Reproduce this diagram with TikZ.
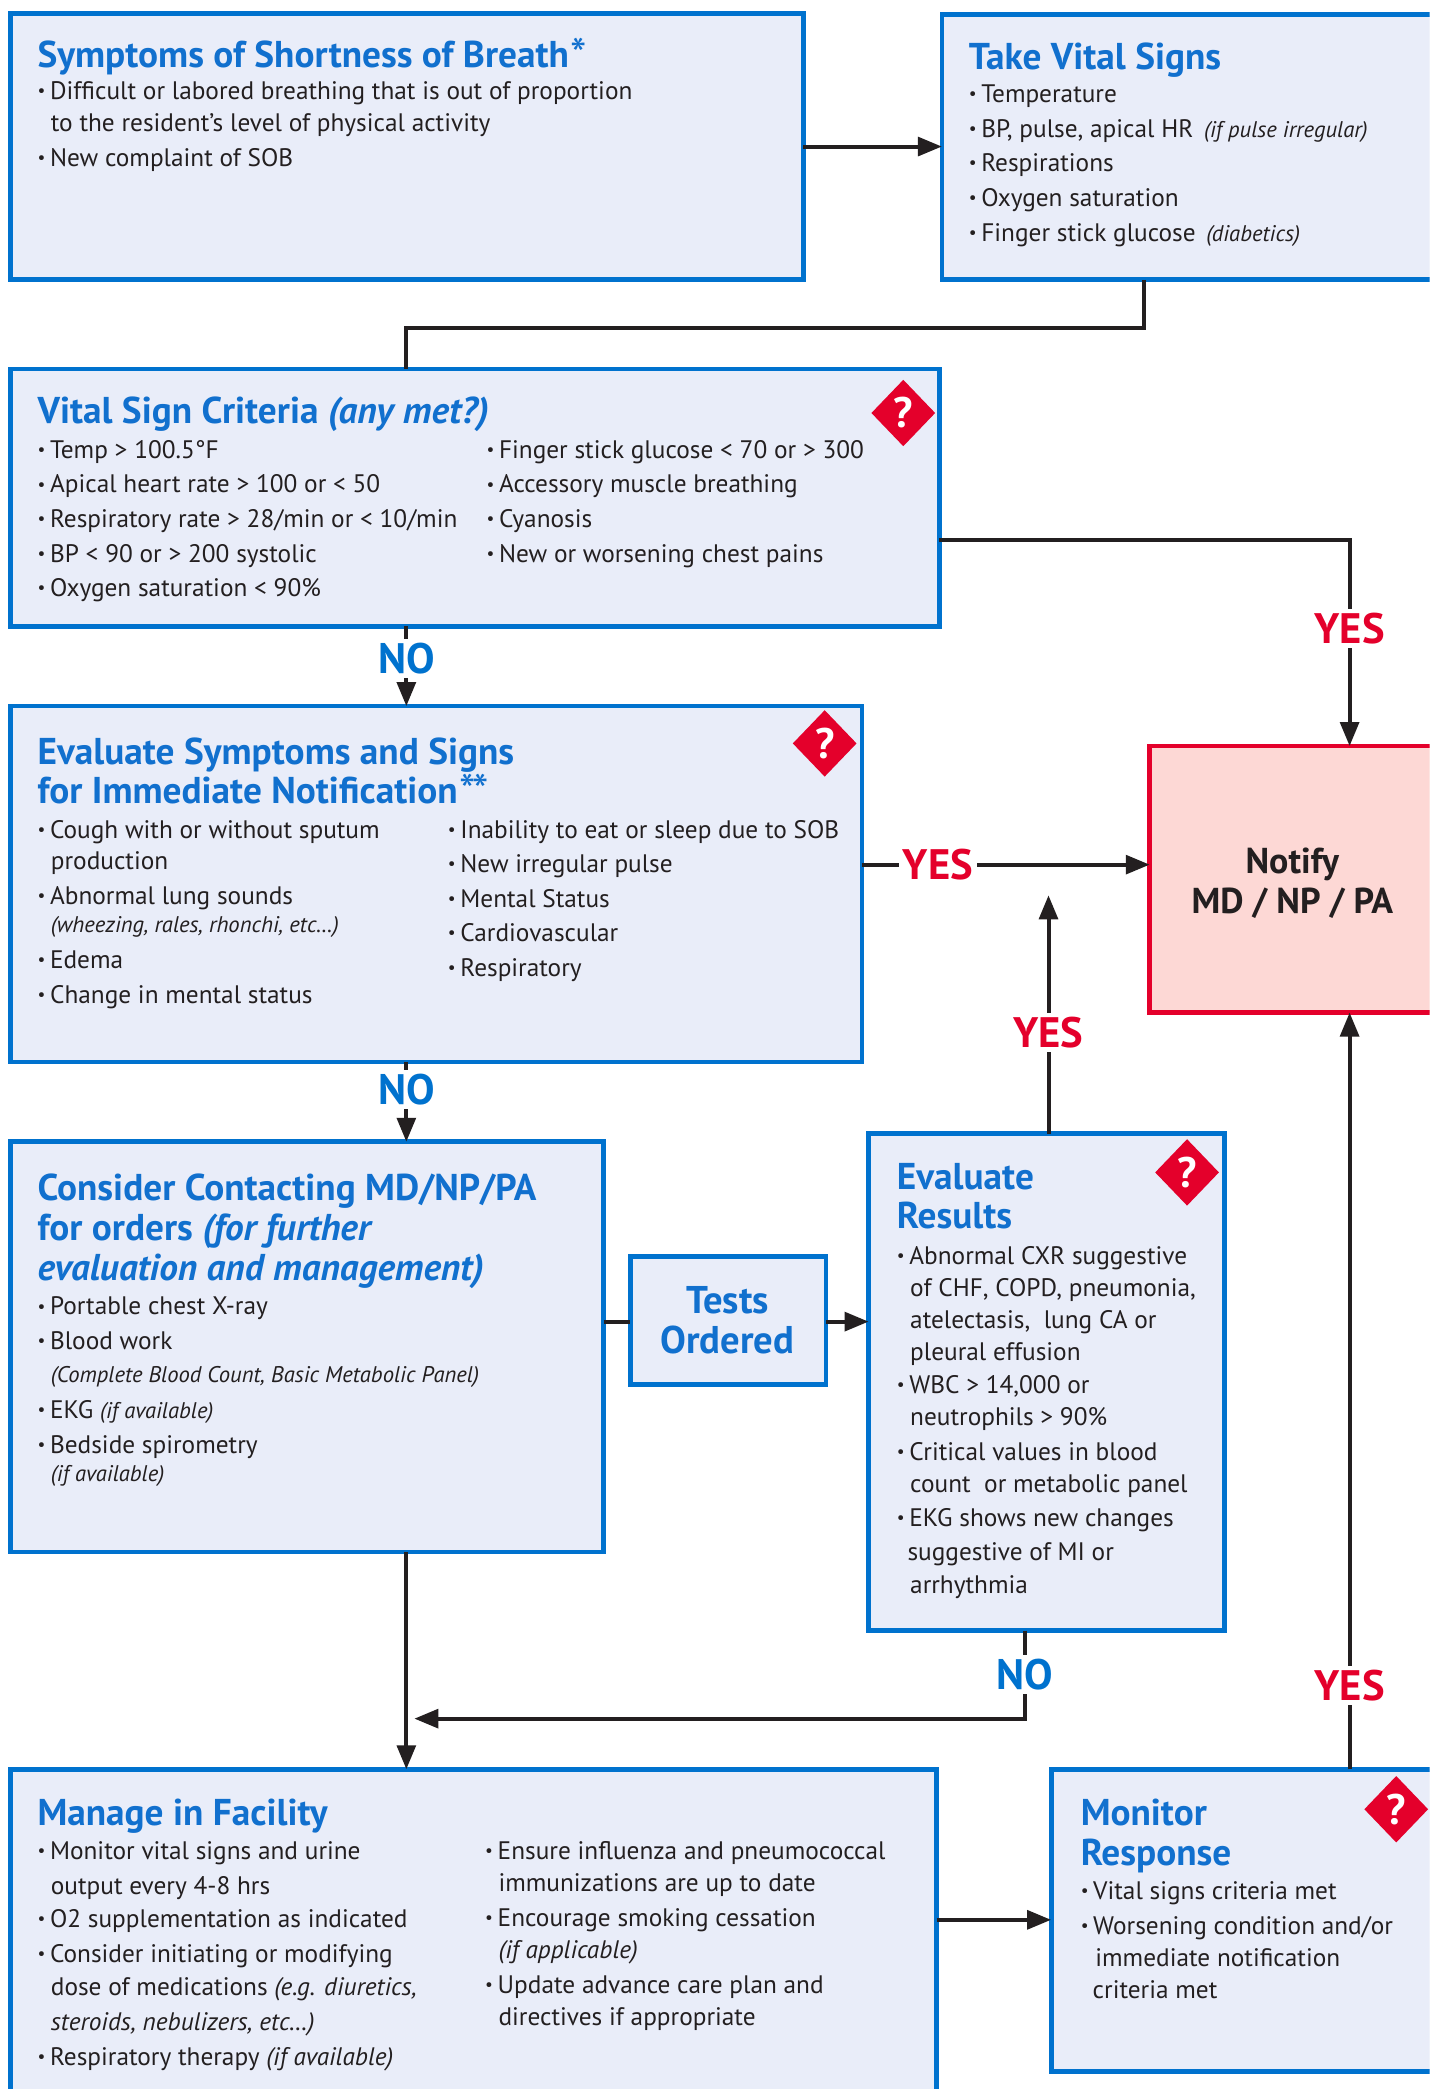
\documentclass[tikz,border=0pt]{standalone}
\usepackage{fontspec}
\setmainfont{PT Sans}
\usetikzlibrary{shapes.geometric,arrows.meta}
\definecolor{boxblue}{HTML}{0072CE}
\definecolor{boxfill}{HTML}{E9EDF9}
\definecolor{titleblue}{HTML}{1170CE}
\definecolor{qred}{HTML}{E4002B}
\definecolor{notifyfill}{HTML}{FDD8D5}
\definecolor{inkblack}{HTML}{231F20}
\newcounter{tlc}
\newcommand\bodyfont{\fontsize{19}{22}\selectfont}
\newcommand\smallit{\fontsize{17}{20}\selectfont\itshape}
\newcommand\titlefont{\fontsize{28}{32}\selectfont\bfseries}
\newcommand\bul{\raisebox{2.2pt}{\fontsize{13}{13}\selectfont\textbullet}\hspace{3.5pt}}
\newcommand\tstar{\raisebox{-3pt}[18pt][0pt]{\fontsize{35}{35}\selectfont\mdseries *}}
\newcommand\tline[3]{\stepcounter{tlc}\node[txt] (t\arabic{tlc}) at (#1,#2) {#3};}
\newcommand\ttitle[3]{\stepcounter{tlc}\node[ttl] (t\arabic{tlc}) at (#1,#2) {#3};}
\tikzset{
  box/.style={draw=boxblue, fill=boxfill, line width=3.5pt, rectangle, inner sep=0pt, outer sep=0pt},
  redbox/.style={draw=qred, fill=notifyfill, line width=3.5pt, rectangle, inner sep=0pt, outer sep=0pt},
  txt/.style={anchor=base west, inner sep=0pt, font=\bodyfont, text=inkblack},
  ttl/.style={anchor=base west, inner sep=0pt, font=\titlefont, text=titleblue},
  conn/.style={draw=inkblack, line width=3pt},
  arr/.style={conn, -{Triangle[length=18pt,width=14pt]}},
  qmark/.style={diamond, fill=qred, minimum width=48pt, minimum height=50pt, inner sep=0pt, text=white, font=\fontsize{32}{32}\selectfont\bfseries},
  yeslab/.style={fill=white, inner sep=3pt, text=qred, font=\fontsize{32}{32}\selectfont\bfseries},
  nolab/.style={fill=white, inner sep=3pt, text=boxblue, font=\fontsize{32}{32}\selectfont\bfseries},
  ctr/.style={anchor=base, inner sep=0pt},
}
\begin{document}
\begin{tikzpicture}[x=1pt,y=-1pt]
\useasboundingbox (0,0) rectangle (1073,1568);
\clip (0,0) rectangle (1073,1568);
\fill[white] (0,0) rectangle (1073,1568);
% boxes
\node[box, minimum width=595pt, minimum height=200pt] (sob) at (305.5,110) {};
\node[box, minimum width=378pt, minimum height=199pt] (vit) at (896,110.5) {};
\node[box, minimum width=697pt, minimum height=193pt] (crit) at (356.5,373.5) {};
\node[box, minimum width=639pt, minimum height=267pt] (eval) at (327.5,663.5) {};
\node[redbox, minimum width=222pt, minimum height=200pt] (notify) at (974,660) {};
\node[box, minimum width=445pt, minimum height=308pt] (cons) at (230.5,1011) {};
\node[box, minimum width=147pt, minimum height=96pt] (tests) at (546.5,991) {};
\node[box, minimum width=267pt, minimum height=373pt] (res) at (785.5,1037.5) {};
\node[box, minimum width=695pt, minimum height=262pt] (manage) at (355.5,1459) {};
\node[box, minimum width=296pt, minimum height=227pt] (monitor) at (937,1441.5) {};
% question marks
\node[qmark] (q1) at (678,310) {?};
\node[qmark] (q2) at (619,558) {?};
\node[qmark] (q3) at (891,880) {?};
\node[qmark] (q4) at (1048,1358) {?};
% coordinates for connectors
\coordinate (b1) at (859,246);
\coordinate (b2) at (305,246);
\coordinate (b3) at (1013,405);
\coordinate (h1) at (760,649);
\coordinate (h2) at (560,992);
\coordinate (h3) at (740,1441);
\coordinate (v1) at (787,672);
\coordinate (v2) at (769,1290);
\coordinate (v3) at (311,1290);
% connectors
\draw[arr] (sob.east) -- (vit.west |- sob.east);
\draw[conn] (b1 |- vit.south) -- (b1) -- (b2) -- (b2 |- crit.north);
\draw[arr] (crit.east |- b3) -- (b3) -- (b3 |- notify.north);
\draw[arr] (b2 |- crit.south) -- (b2 |- eval.north);
\draw[arr] (eval.east |- h1) -- (notify.west |- h1);
\draw[arr] (b2 |- eval.south) -- (b2 |- cons.north);
\draw[conn] (cons.east |- h2) -- (tests.west |- h2);
\draw[arr] (tests.east |- h2) -- (res.west |- h2);
\draw[arr] (v1 |- res.north) -- (v1);
\draw[arr] (v2 |- res.south) -- (v2) -- (v3);
\draw[arr] (b2 |- cons.south) -- (b2 |- manage.north);
\draw[arr] (manage.east |- h3) -- (monitor.west |- h3);
\draw[arr] (b3 |- monitor.north) -- (b3 |- notify.south);
% labels
\node[yeslab] (y1) at (1013,472) {YES};
\node[yeslab] (y2) at (704,649) {YES};
\node[yeslab] (y3) at (787,775) {YES};
\node[yeslab] (y4) at (1013,1265) {YES};
\node[nolab] (n1) at (305,494) {NO};
\node[nolab] (n2) at (305,818) {NO};
\node[nolab] (n3) at (769,1257) {NO};
% box 1
\ttitle{28}{51}{Symptoms of Shortness of Breath\kern1pt\tstar}
\tline{28}{75}{\bul Difficult or labored breathing that is out of proportion}
\tline{38}{99}{to the resident’s level of physical activity}
\tline{28}{125}{\bul New complaint of SOB}
% box 2
\ttitle{727}{52}{Take Vital Signs}
\tline{727}{77}{\bul Temperature}
\tline{727}{103}{\bul BP, pulse, apical HR\hspace{8pt}{\smallit (if pulse irregular)}}
\tline{727}{129}{\bul Respirations}
\tline{727}{155}{\bul Oxygen saturation}
\tline{727}{181}{\bul Finger stick glucose\hspace{8pt}{\smallit (diabetics)}}
% box 3
\ttitle{28}{318}{Vital Sign Criteria {\itshape (any met?)}}
\tline{28}{344}{\bul Temp > 100.5°F}
\tline{28}{370}{\bul Apical heart rate > 100 or < 50}
\tline{28}{396}{\bul Respiratory rate > 28/min or < 10/min}
\tline{28}{422}{\bul BP < 90 or > 200 systolic}
\tline{28}{448}{\bul Oxygen saturation < 90\%}
\tline{365}{344}{\bul Finger stick glucose < 70 or > 300}
\tline{365}{370}{\bul Accessory muscle breathing}
\tline{365}{396}{\bul Cyanosis}
\tline{365}{422}{\bul New or worsening chest pains}
% box 4
\ttitle{28}{574}{Evaluate Symptoms and Signs}
\ttitle{28}{603}{for Immediate Notification\kern1pt\tstar\kern-2pt\tstar}
\tline{28}{629}{\bul Cough with or without sputum}
\tline{38}{653}{production}
\tline{28}{679}{\bul Abnormal lung sounds}
\tline{38}{700}{{\smallit (wheezing, rales, rhonchi, etc…)}}
\tline{28}{727}{\bul Edema}
\tline{28}{753}{\bul Change in mental status}
\tline{336}{629}{\bul Inability to eat or sleep due to SOB}
\tline{336}{655}{\bul New irregular pulse}
\tline{336}{681}{\bul Mental Status}
\tline{336}{707}{\bul Cardiovascular}
\tline{336}{733}{\bul Respiratory}
% notify
\node[ctr, font=\fontsize{27}{30}\selectfont\bfseries, text=inkblack] (nt1) at (970,656) {Notify};
\node[ctr, font=\fontsize{27}{30}\selectfont\bfseries, text=inkblack] (nt2) at (970,686) {MD / NP / PA};
% box 5
\ttitle{28}{901}{Consider Contacting MD/NP/PA}
\ttitle{28}{931}{for orders {\itshape (for further}}
\ttitle{28}{961}{{\itshape evaluation and management)}}
\tline{28}{987}{\bul Portable chest X-ray}
\tline{28}{1013}{\bul Blood work}
\tline{38}{1038}{{\smallit (Complete Blood Count, Basic Metabolic Panel)}}
\tline{28}{1065}{\bul EKG {\smallit (if available)}}
\tline{28}{1091}{\bul Bedside spirometry}
\tline{38}{1112}{{\smallit (if available)}}
% tests
\node[ctr, font=\fontsize{29}{32}\selectfont\bfseries, text=titleblue] (tt1) at (546,986) {Tests};
\node[ctr, font=\fontsize{29}{32}\selectfont\bfseries, text=titleblue] (tt2) at (546,1016) {Ordered};
% box 6
\ttitle{673}{893}{Evaluate}
\ttitle{673}{922}{Results}
\tline{673}{949}{\bul Abnormal CXR suggestive}
\tline{683}{973}{of CHF, COPD, pneumonia,}
\tline{683}{997}{atelectasis,\ \ lung CA or}
\tline{683}{1021}{pleural effusion}
\tline{673}{1046}{\bul WBC > 14,000 or}
\tline{683}{1070}{neutrophils > 90\%}
\tline{673}{1096}{\bul Critical values in blood}
\tline{683}{1120}{count\ \ or metabolic panel}
\tline{673}{1146}{\bul EKG shows new changes}
\tline{681}{1171}{suggestive of MI or}
\tline{683}{1196}{arrhythmia}
% box 7
\ttitle{28}{1370}{Manage in Facility}
\tline{28}{1396}{\bul Monitor vital signs and urine}
\tline{38}{1422}{output every 4-8 hrs}
\tline{28}{1447}{\bul O2 supplementation as indicated}
\tline{28}{1473}{\bul Consider initiating or modifying}
\tline{38}{1498}{dose of medications {\itshape (e.g. diuretics,}}
\tline{38}{1524}{{\itshape steroids, nebulizers, etc…)}}
\tline{28}{1550}{\bul Respiratory therapy {\itshape (if available)}}
\tline{364}{1396}{\bul Ensure influenza and pneumococcal}
\tline{374}{1420}{immunizations are up to date}
\tline{364}{1446}{\bul Encourage smoking cessation}
\tline{374}{1470}{{\itshape (if applicable)}}
\tline{364}{1496}{\bul Update advance care plan and}
\tline{374}{1520}{directives if appropriate}
% box 8
\ttitle{811}{1370}{Monitor}
\ttitle{811}{1400}{Response}
\tline{811}{1426}{\bul Vital signs criteria met}
\tline{811}{1452}{\bul Worsening condition and/or}
\tline{822}{1476}{immediate notification}
\tline{820}{1500}{criteria met}
\end{tikzpicture}
\end{document}
